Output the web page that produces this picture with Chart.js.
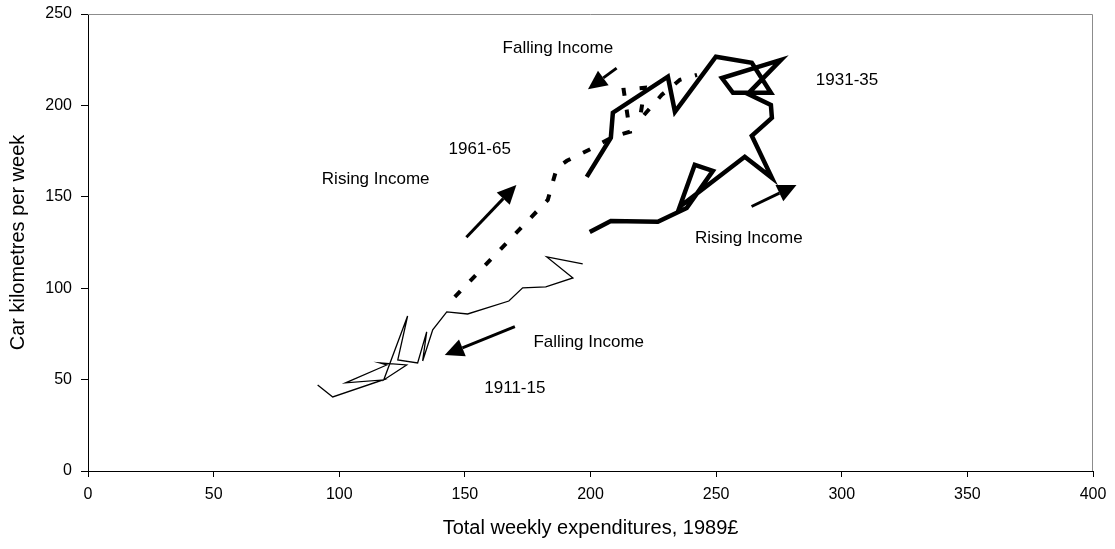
<!DOCTYPE html>
<html>
<head>
<meta charset="utf-8">
<script src="https://cdn.jsdelivr.net/npm/chart.js@4"></script>
<style>
  html, body { margin: 0; padding: 0; background: #fff; }
  #wrap { width: 1115px; height: 549px; }
</style>
</head>
<body>
<div id="wrap"><canvas id="chart"></canvas></div>
<script>
// 1911-15 (thin line)
const thinX = [91.4, 97.4, 117.3, 102.5, 118.9, 116.1, 126.8, 117.7, 127.2, 123.3, 131.2, 134.8, 133.2, 137.2, 142.8, 151.1, 167.5, 173.0, 182.2, 193.0, 182.6, 196.9];
const thinY = [47.1, 40.5, 49.8, 48.2, 58.0, 59.1, 58.0, 49.8, 84.8, 60.8, 59.1, 76.1, 60.2, 77.2, 87.0, 85.9, 93.0, 100.2, 100.7, 105.6, 117.1, 113.3];

// 1961-65 (dashed line)
const dashX = [146.0, 183.0, 186.6, 190.6, 200.1, 208.9, 215.7, 213.2, 221.6, 219.6, 228.4, 235.6, 242.4];
const dashY = [95.2, 148.3, 165.8, 169.7, 176.2, 182.8, 185.6, 208.5, 209.6, 192.1, 205.8, 214.0, 216.7];

// 1931-35 (thick line)
const thickX = [199.7, 208.1, 226.8, 238.3, 248.7, 241.5, 235.5, 261.4, 272.2, 264.2, 272.2, 271.8, 262.6, 275.8, 252.3, 256.7, 271.8, 264.2, 249.9, 233.6, 230.8, 208.9, 208.1, 198.5];
const thickY = [130.8, 136.8, 136.3, 143.9, 164.2, 167.5, 144.5, 171.9, 160.4, 183.4, 193.2, 200.3, 206.3, 224.9, 215.0, 206.9, 206.9, 223.3, 226.6, 196.5, 215.7, 196.0, 182.3, 160.9];

// annotations
const noteText = ['Falling Income', '1931-35', '1961-65', 'Rising Income', 'Rising Income', 'Falling Income', '1911-15'];
const noteX = [187.0, 302.1, 155.9, 114.5, 263.0, 199.3, 169.9];
const noteY = [231.5, 213.5, 176.2, 159.3, 127.5, 70.6, 45.4];

const arrowFromX = [210.4, 150.6, 264.1, 169.9];
const arrowFromY = [220.4, 127.9, 144.7, 79.0];
const arrowToX = [199.0, 170.5, 282.0, 142.0];
const arrowToY = [208.9, 156.5, 156.5, 63.5];

function toPoints(xs, ys) {
    return xs.map((x, i) => ({ x: x, y: ys[i] }));
}

const FONT = '"Liberation Sans", Arial, sans-serif';

const notesPlugin = {
    id: 'notes',
    afterDatasetsDraw(chart) {
        const { ctx, chartArea, scales: { x, y } } = chart;
        ctx.save();

        // grey frame on top and right
        ctx.strokeStyle = '#8c8c8c';
        ctx.lineWidth = 1;
        ctx.beginPath();
        ctx.moveTo(chartArea.left, chartArea.top + 0.5);
        ctx.lineTo(chartArea.right - 0.5, chartArea.top + 0.5);
        ctx.lineTo(chartArea.right - 0.5, chartArea.bottom);
        ctx.stroke();

        // text labels
        ctx.fillStyle = '#000';
        ctx.font = '17px ' + FONT;
        ctx.textAlign = 'center';
        ctx.textBaseline = 'middle';
        noteText.forEach((t, i) => {
            ctx.fillText(t, x.getPixelForValue(noteX[i]), y.getPixelForValue(noteY[i]));
        });

        // arrows
        ctx.strokeStyle = '#000';
        ctx.lineWidth = 3;
        arrowFromX.forEach((fx, i) => {
            const x0 = x.getPixelForValue(fx), y0 = y.getPixelForValue(arrowFromY[i]);
            const x1 = x.getPixelForValue(arrowToX[i]), y1 = y.getPixelForValue(arrowToY[i]);
            const ang = Math.atan2(y1 - y0, x1 - x0);
            const headLen = 19, headW = 9;
            const bx = x1 - headLen * Math.cos(ang), by = y1 - headLen * Math.sin(ang);
            ctx.beginPath();
            ctx.moveTo(x0, y0);
            ctx.lineTo(bx, by);
            ctx.stroke();
            ctx.beginPath();
            ctx.moveTo(x1, y1);
            ctx.lineTo(bx + headW * Math.sin(ang), by - headW * Math.cos(ang));
            ctx.lineTo(bx - headW * Math.sin(ang), by + headW * Math.cos(ang));
            ctx.closePath();
            ctx.fill();
        });
        ctx.restore();
    }
};

new Chart(document.getElementById('chart'), {
    type: 'scatter',
    data: {
        datasets: [
            {
                label: '1911-15',
                data: toPoints(thinX, thinY),
                showLine: true,
                borderColor: '#000',
                borderWidth: 1.3,
                pointRadius: 0,
                tension: 0
            },
            {
                label: '1961-65',
                data: toPoints(dashX, dashY),
                showLine: true,
                borderColor: '#000',
                borderWidth: 4,
                borderDash: [8, 14],
                borderCapStyle: 'butt',
                pointRadius: 0,
                tension: 0
            },
            {
                label: '1931-35',
                data: toPoints(thickX, thickY),
                showLine: true,
                borderColor: '#000',
                borderWidth: 4.5,
                pointRadius: 0,
                tension: 0
            }
        ]
    },
    options: {
        responsive: true,
        maintainAspectRatio: false,
        animation: false,
        layout: { padding: { top: 14, right: 22, left: 0, bottom: 0 } },
        plugins: {
            legend: { display: false },
            tooltip: { enabled: false }
        },
        scales: {
            x: {
                type: 'linear',
                min: 0,
                max: 400,
                afterFit: (s) => { s.height = 78; s.paddingLeft = 0; s.paddingRight = 0; },
                ticks: { stepSize: 50, color: '#000', padding: 8, font: { size: 16, family: FONT } },
                grid: { drawOnChartArea: false, drawTicks: true, tickLength: 6, color: '#000' },
                border: { color: '#000', width: 1 },
                title: {
                    display: true,
                    text: 'Total weekly expenditures, 1989\u00a3',
                    color: '#000',
                    font: { size: 20, family: FONT },
                    padding: { top: 0, bottom: 9 }
                }
            },
            y: {
                type: 'linear',
                min: 0,
                max: 250,
                afterFit: (s) => { s.width = 88; s.paddingTop = 0; s.paddingBottom = 0; },
                ticks: { stepSize: 50, color: '#000', padding: 9, font: { size: 16, family: FONT } },
                grid: { drawOnChartArea: false, drawTicks: true, tickLength: 7, color: '#000' },
                border: { color: '#000', width: 1 },
                title: {
                    display: true,
                    text: 'Car kilometres per week',
                    color: '#000',
                    font: { size: 20, family: FONT },
                    padding: { top: 6, bottom: 0 }
                }
            }
        }
    },
    plugins: [notesPlugin]
});
</script>
</body>
</html>
